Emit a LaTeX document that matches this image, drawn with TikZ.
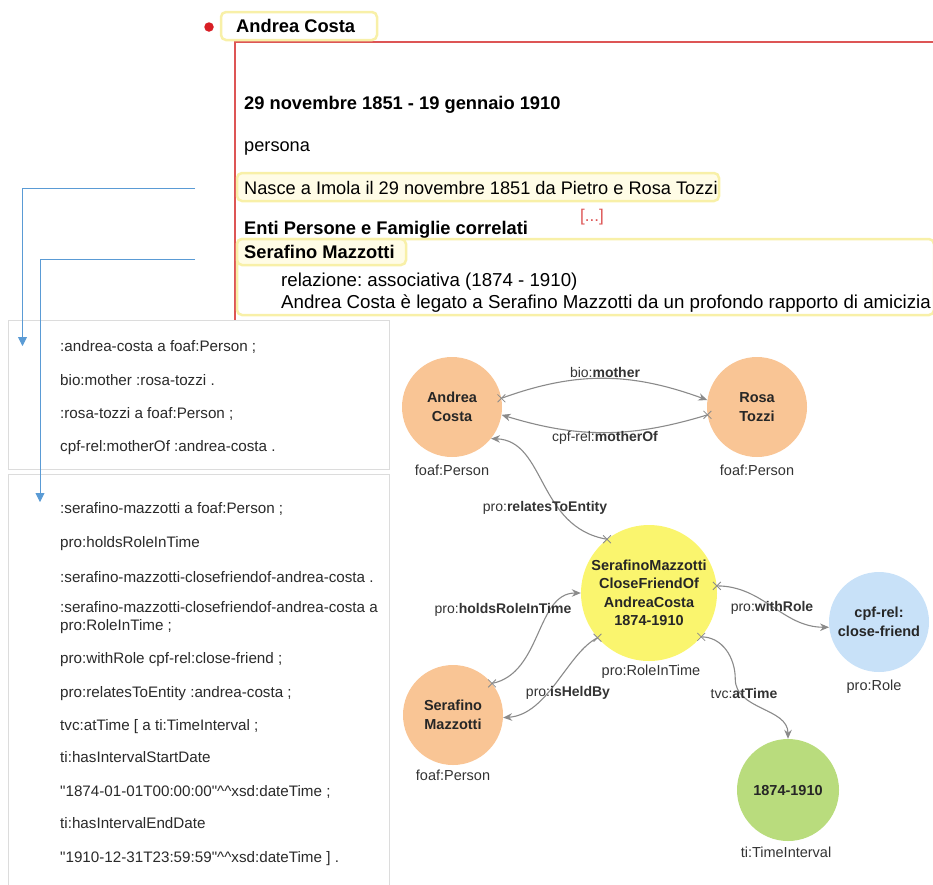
\documentclass[tikz,border=0pt]{standalone}
\usepackage{fontspec}
\setmainfont{Liberation Sans}
\usetikzlibrary{arrows.meta,shapes.misc}
\definecolor{hlyel}{HTML}{F8F0A8}
\definecolor{hlfill}{HTML}{FFFCE6}
\definecolor{redline}{HTML}{DD5555}
\definecolor{reddot}{HTML}{D81E25}
\definecolor{boxgray}{HTML}{DCDCDC}
\definecolor{bluec}{HTML}{5A9BD5}
\definecolor{codetext}{HTML}{2A2A2A}
\definecolor{edgegray}{HTML}{8A8A8A}
\definecolor{lbl}{HTML}{333333}
\definecolor{corange}{HTML}{F9C595}
\definecolor{cyellow}{HTML}{FAF56E}
\definecolor{cblue}{HTML}{C8E1F8}
\definecolor{cgreen}{HTML}{B9DC7D}
\frenchspacing
\begin{document}
\begin{tikzpicture}[x=1pt,y=1pt,
  hl/.style={draw=hlyel, line width=2.5pt, rounded corners=5pt, fill=hlfill},
  hlbig/.style={draw=hlyel, line width=2.5pt, rounded corners=5pt, fill=white},
  toptext/.style={anchor=base west, inner sep=0pt, font=\fontsize{18.2}{21}\selectfont, text=black},
  topbold/.style={toptext, font=\bfseries\fontsize{18.3}{21}\selectfont},
  reltext/.style={toptext, font=\fontsize{18.7}{21}\selectfont},
  codeline/.style={anchor=base west, inner sep=0pt, font=\fontsize{15.2}{17}\selectfont, text=codetext},
  circ/.style={circle, minimum size=100pt, inner sep=0pt, align=center, text=black!85,
    font=\bfseries\fontsize{14.5}{18.5}\selectfont},
  tlabel/.style={inner sep=1pt, font=\fontsize{14.5}{17}\selectfont, text=lbl},
  elabel/.style={inner sep=1pt, font=\fontsize{14}{16}\selectfont, text=lbl},
  rel/.style={draw=edgegray, line width=1.1pt, -{Stealth[length=9pt,width=7.5pt]}},
  xm/.style={draw=edgegray, cross out, minimum size=7pt, inner sep=0pt, line width=0.8pt},
  blueconn/.style={draw=bluec, line width=0.9pt, -{Triangle[length=9pt,width=9pt]}},
  codebox/.style={draw=boxgray, line width=0.8pt, fill=white}
]
\useasboundingbox (0,0) rectangle (933,-884);

% ---------- top record ----------
\draw[redline, line width=1.2pt] (235,-41) -- (235,-322);
\draw[redline, line width=1.2pt] (235,-42) -- (933,-42);
\node[circle, fill=reddot, minimum size=9.5pt, inner sep=0pt] (dot) at (209,-27) {};
\draw[hlbig] (221,-12) rectangle (377,-40);
\node[topbold] (name) at (236,-32.5) {Andrea Costa};

\node[topbold] (dates) at (244,-109.5) {29 novembre 1851 - 19 gennaio 1910};
\node[toptext] (tipo) at (244,-151.5) {persona};
\draw[hl] (237,-173) rectangle (719,-201);
\node[toptext] (nasce) at (244,-194.5) {Nasce a Imola il 29 novembre 1851 da Pietro e Rosa Tozzi};
\node[anchor=base, inner sep=0pt, text=redline, font=\fontsize{17}{20}\selectfont] (dots) at (592,-221) {[...]};
\node[topbold] (enti) at (244,-234.5) {\underline{Enti Persone e Famiglie correlati}};
\draw[hlbig] (237,-239) rectangle (934,-315);
\draw[hl] (237,-239) rectangle (406,-265);
\node[topbold] (sm) at (244,-258.5) {Serafino Mazzotti};
\node[reltext] (relaz) at (281,-286.5) {relazione: associativa (1874 - 1910)};
\node[reltext] (descr) at (281,-308) {Andrea Costa è legato a Serafino Mazzotti da un profondo rapporto di amicizia};

% ---------- code boxes ----------
\draw[codebox] (8,-320) rectangle (389,-469);
\draw[codebox] (8,-474) rectangle (389,-890);
\node[codeline] (c1) at (60,-351.5) {:andrea-costa a foaf:Person ;};
\node[codeline] (c2) at (60,-385.5) {bio:mother :rosa-tozzi .};
\node[codeline] (c3) at (60,-418.5) {:rosa-tozzi a foaf:Person ;};
\node[codeline] (c4) at (60,-451.5) {cpf-rel:motherOf :andrea-costa .};

\node[codeline] (d1) at (60,-513.5) {:serafino-mazzotti a foaf:Person ;};
\node[codeline] (d2) at (60,-547.5) {pro:holdsRoleInTime};
\node[codeline] (d3) at (60,-582) {:serafino-mazzotti-closefriendof-andrea-costa .};
\node[codeline] (d4) at (60,-612.5) {:serafino-mazzotti-closefriendof-andrea-costa a};
\node[codeline] (d4b) at (60,-630) {pro:RoleInTime ;};
\node[codeline] (d5) at (60,-663.5) {pro:withRole cpf-rel:close-friend ;};
\node[codeline] (d6) at (60,-697) {pro:relatesToEntity :andrea-costa ;};
\node[codeline] (d7) at (60,-730) {tvc:atTime [ a ti:TimeInterval ;};
\node[codeline] (d8) at (60,-762.5) {ti:hasIntervalStartDate};
\node[codeline] (d9) at (60,-796) {\textquotedbl 1874-01-01T00:00:00\textquotedbl\textasciicircum\textasciicircum xsd:dateTime ;};
\node[codeline] (d10) at (60,-828.5) {ti:hasIntervalEndDate};
\node[codeline] (d11) at (60,-862.5) {\textquotedbl 1910-12-31T23:59:59\textquotedbl\textasciicircum\textasciicircum xsd:dateTime ] .};

% ---------- blue connectors ----------
\coordinate (s1) at (195,-188);
\coordinate (e1) at (22.5,-346);
\coordinate (s2) at (195,-259.5);
\coordinate (e2) at (40,-502);
\draw[blueconn] (s1) -| (e1);
\draw[blueconn] (s2) -| (e2);

% ---------- graph ----------
\node[circ, fill=corange] (ac) at (452,-407) {Andrea\\Costa};
\node[circ, fill=corange] (rt) at (757,-407) {Rosa\\Tozzi};
\node[circ, fill=cyellow, minimum size=136pt] (cf) at (649,-593) {SerafinoMazzotti\\CloseFriendOf\\AndreaCosta\\1874-1910};
\node[circ, fill=cblue] (cp) at (879,-622) {cpf-rel:\\close-friend};
\node[circ, fill=corange] (se) at (453,-715) {Serafino\\Mazzotti};
\node[circ, fill=cgreen, minimum size=102pt] (tm) at (788,-790) {1874-1910};

\node[tlabel] (tac) at (452,-470) {foaf:Person};
\node[tlabel] (trt) at (757,-470) {foaf:Person};
\node[tlabel] (tcf) at (651,-672) {pro:RoleInTime};
\node[tlabel] (tcp) at (874,-687) {pro:Role};
\node[tlabel] (tse) at (453,-775) {foaf:Person};
\node[tlabel] (ttm) at (786,-852) {ti:TimeInterval};

\draw[rel] (ac.10) to[out=20,in=160] node[xm,pos=0]{} (rt.172);
\draw[rel] (rt.189) to[out=197,in=-17] node[xm,pos=0]{} (ac.-9);
\draw[rel] (cf.128) .. controls +(-70,12) and +(55,-2) .. node[xm,pos=0]{} (ac.-39);
\draw[rel] (se.39) .. controls +(50,10) and +(-45,0) .. node[xm,pos=0]{} (cf.180);
\draw[rel] (cf.221) .. controls +(-30,-15) and +(45,3) .. node[xm,pos=0]{} (se.-3);
\draw[rel] (cf.6) to[out=0,in=180] node[xm,pos=0]{} (cp.186);
\draw[rel] (cf.-40) to[out=0,in=90] node[xm,pos=0]{} ++(34,-42) to[out=-90,in=90] (tm.90);

\node[elabel] (lbio) at (605,-372) {bio:\textbf{mother}};
\node[elabel] (lmo) at (605,-438) {cpf-rel:\textbf{motherOf}};
\node[elabel] (lrel) at (545,-508) {pro:\textbf{relatesToEntity}};
\node[elabel] (lhold) at (503,-610) {pro:\textbf{holdsRoleInTime}};
\node[elabel] (lwith) at (772,-608) {pro:\textbf{withRole}};
\node[elabel] (lheld) at (568,-693) {pro:\textbf{isHeldBy}};
\node[elabel] (lat) at (744,-693) {tvc:\textbf{atTime}};
\end{tikzpicture}
\end{document}
